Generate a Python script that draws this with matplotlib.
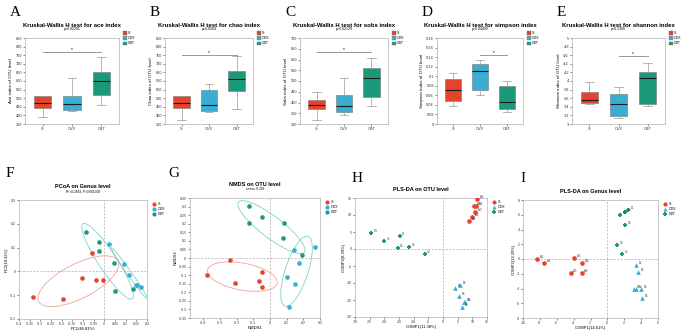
import matplotlib
matplotlib.use("Agg")
import matplotlib.pyplot as plt
from matplotlib.patches import Ellipse
import numpy as np

plt.rcParams['font.family'] = ['Liberation Sans', 'DejaVu Sans']

W, H = 682, 330
fig = plt.figure(figsize=(W / 100, H / 100), dpi=100)

groups = ['S', 'OVX', 'CBT']
cols = ['#e5432b', '#3aaed1', '#1b9a7b']

# box stats: (whislo, q1, med, q3, whishi) for S, OVX, CBT
ace = [(388, 445, 472, 510, 515), (428, 430, 465, 515, 620), (460, 520, 600, 655, 738)]
chao = [(372, 445, 472, 515, 515), (420, 425, 458, 545, 585), (440, 540, 610, 660, 745)]
sobs = [(320, 370, 388, 410, 450), (340, 358, 383, 435, 512), (385, 425, 512, 560, 608)]
simpson = [(0.038, 0.048, 0.072, 0.094, 0.107), (0.061, 0.072, 0.110, 0.126, 0.133),
           (0.025, 0.032, 0.047, 0.080, 0.090)]
shannon = [(3.47, 3.49, 3.56, 3.75, 3.98), (3.13, 3.19, 3.46, 3.70, 3.87),
           (3.43, 3.47, 4.08, 4.20, 4.43)]

box_panels = [
    ('A', 'ace', 'p=0.02291', 'Ace index of OTU level', ace, (350, 850), 50, (0, 2, 770)),
    ('B', 'chao', 'p=0.0264', 'Chao index of OTU level', chao, (350, 850), 50, (0, 2, 752)),
    ('C', 'sobs', 'p=0.02129', 'Sobs index of OTU level', sobs, (300, 700), 50, (0, 2, 635)),
    ('D', 'simpson', 'p=0.04493', 'Simpson index of OTU level', simpson, (0, 0.18), 0.02, (1, 2, 0.145)),
    ('E', 'shannon', 'p=0.1389', 'Shannon index of OTU level', shannon, (3, 5), 0.2, (1, 2, 4.57)),
]
box_left = [25, 165, 300, 437, 572]
box_right = [119, 253, 388, 523, 665]

# scatter data
pcoa_s = ([-0.333, -0.193, -0.104, -0.037, -0.007, -0.056], [-0.106, -0.116, -0.029, -0.036, -0.036, 0.076])
pcoa_ovx = ([0.022, 0.091, 0.116, 0.148, 0.153, 0.174], [0.114, 0.033, -0.015, -0.058, -0.056, -0.064])
pcoa_cbt = ([-0.088, -0.024, -0.027, 0.046, 0.050, 0.135], [0.167, 0.122, 0.086, 0.034, -0.081, -0.074])

nmds_s = ([-0.38, -0.242, -0.21, -0.066, -0.048, -0.048], [-0.102, -0.014, -0.145, -0.137, -0.169, -0.084])
nmds_ovx = ([0.142, 0.272, 0.176, 0.102, 0.150, 0.114], [0.047, 0.065, -0.031, -0.108, -0.149, -0.286])
nmds_cbt = ([-0.128, -0.046, -0.128, 0.082, 0.080, 0.192], [0.302, 0.237, 0.206, 0.202, 0.116, 0.018])

plsH_s = ([8.8, 9.9, 11.0, 10.5, 11.3, 11.6], [8.3, 9.3, 10.9, 12.6, 12.6, 14.7])
plsH_ovx = ([4.2, 5.9, 5.4, 7.6, 7.3, 6.5], [-11.6, -10.5, -13.9, -15.6, -15.5, -17.2])
plsH_cbt = ([-24.6, -20.2, -14.8, -15.5, -11.5, -6.3], [4.67, 2.5, 3.7, 0.4, 0.6, -1.5])

plsI_s = ([-8.3, -7.5, -3.9, -3.0, -4.35, -3.05], [-0.05, -0.6, 0.1, -0.6, -1.9, -1.96])
plsI_ovx = ([3.44, 3.67, 3.1, 3.44, 4.0, 4.15], [-0.8, -1.7, -4.0, -4.0, -4.0, -5.3])
plsI_cbt = ([1.46, 2.1, 2.5, 2.05, 1.15, 1.74], [6.0, 6.4, 6.6, 4.6, 1.9, 0.67])

lab_s = ['A1', 'A2', 'A3', 'A4', 'A5', 'A6']
lab_ovx = ['B1', 'B2', 'B3', 'B4', 'B5', 'B6']
lab_cbt = ['C4', 'C3', 'C1', 'C5', 'C6', 'C2']


def ax_at(l, t, r, b):
    return fig.add_axes([l / W, 1 - b / H, (r - l) / W, (b - t) / H])


def style(ax):
    for s in ax.spines.values():
        s.set_color('#b0b0b0')
        s.set_linewidth(0.5)
    ax.tick_params(labelsize=2.8, length=1.2, width=0.4, pad=1, colors='#333333')


for i, (letter, name, p, ylab, data, ylim, step, sig) in enumerate(box_panels):
    ax = ax_at(box_left[i], 38, box_right[i], 124)
    stats = [dict(whislo=d[0], q1=d[1], med=d[2], q3=d[3], whishi=d[4], label=g)
             for d, g in zip(data, groups)]
    bp = ax.bxp(stats, positions=[0, 1, 2], widths=0.6, showfliers=False, patch_artist=True,
                medianprops=dict(color='#1a1a1a', linewidth=0.8),
                whiskerprops=dict(color='#999999', linewidth=0.5),
                capprops=dict(color='#999999', linewidth=0.5),
                boxprops=dict(linewidth=0.4, edgecolor='#777777'))
    for patch, c in zip(bp['boxes'], cols):
        patch.set_facecolor(c)
    ax.set_xlim(-0.6, 2.6)
    ax.set_ylim(*ylim)
    ax.set_yticks(np.arange(ylim[0], ylim[1] + step / 2, step))
    if name == 'simpson':
        ax.set_yticklabels([f'{v:g}' for v in np.round(np.arange(0, 0.181, 0.02), 2)])
    elif name == 'shannon':
        ax.set_yticklabels([f'{v:g}' for v in np.round(np.arange(3, 5.01, 0.2), 1)])
    ax.set_xticks([0, 1, 2])
    ax.set_xticklabels(groups)
    ax.set_ylabel(ylab, fontsize=3.2, labelpad=1.5)
    style(ax)
    x0, x1, yv = sig
    ax.plot([x0, x1], [yv, yv], color='#999999', lw=0.7)
    ax.text((x0 + x1) / 2, yv, '*', ha='center', va='bottom', fontsize=3.5)
    ax.text(0.5, 1.12, f'Kruskal-Wallis H test for {name} index', transform=ax.transAxes,
            ha='center', va='bottom', fontsize=4.3, fontweight='bold')
    ax.text(0.5, 1.08, p, transform=ax.transAxes, ha='center', va='bottom', fontsize=2.5)
    fig.text((box_left[i] - 15) / W, 1 - 13 / H, letter, fontsize=11,
             family='Liberation Serif', va='center')
    handles = [plt.Rectangle((0, 0), 1, 1, fc=c, ec='#777777', lw=0.3) for c in cols]
    ax.legend(handles, groups, loc='upper left', bbox_to_anchor=(1.02, 1.1), fontsize=2.6,
              frameon=False, handlelength=1.2, handleheight=1.0, labelspacing=0.3,
              handletextpad=0.3, borderpad=0)


def conf_ellipse(ax, x, y, color):
    x = np.asarray(x)
    y = np.asarray(y)
    cov = np.cov(x, y)
    vals, vecs = np.linalg.eigh(cov)
    order = vals.argsort()[::-1]
    vals, vecs = vals[order], vecs[:, order]
    ang = np.degrees(np.arctan2(vecs[1, 0], vecs[0, 0]))
    k = 1.55
    e = Ellipse((x.mean(), y.mean()), 2 * k * np.sqrt(vals[0]), 2 * k * np.sqrt(vals[1]),
                angle=ang, fill=False, ec=color, lw=0.6, alpha=0.8)
    ax.add_patch(e)


scatter_panels = [
    ('F', 'PCoA on Genus level', 'R²=0.2843, P=0.001000', 'PC1(46.81%)', 'PC2(18.32%)',
     (pcoa_s, pcoa_ovx, pcoa_cbt), (-0.4, 0.2), (-0.2, 0.3), 0.05, 0.1, (19, 200, 147, 319), True, False),
    ('G', 'NMDS on OTU level', 'stress: 0.118', 'NMDS1', 'NMDS2',
     (nmds_s, nmds_ovx, nmds_cbt), (-0.48, 0.3), (-0.35, 0.35), 0.1, 0.05, (190, 198, 320, 318), True, False),
    ('H', 'PLS-DA on OTU level', '', 'COMP1(11.38%)', 'COMP2(8.39%)',
     (plsH_s, plsH_ovx, plsH_cbt), (-30, 15), (-20, 15), 5, 5, (355, 198, 487, 317), False, True),
    ('I', 'PLS-DA on Genus level', '', 'COMP1(14.61%)', 'COMP2(13.39%)',
     (plsI_s, plsI_ovx, plsI_cbt), (-10, 6), (-8, 8), 2, 2, (523, 200, 658, 318), False, True),
]
letter_pos = [(6, 173), (168, 173), (352, 178), (520, 178)]

for j, (letter, title, sub, xl, yl, sets, xlim, ylim, xs, ys, box, ell, pls) in enumerate(scatter_panels):
    ax = ax_at(*box)
    ax.axhline(0, color='#aaaaaa', lw=0.5, ls=(0, (3, 2)))
    ax.axvline(0, color='#aaaaaa', lw=0.5, ls=(0, (3, 2)))
    markers = ['o', '^', 'P'] if pls else ['o', 'o', 'o']
    for (xv, yv), c, g, m, labs in zip(sets, cols, groups, markers, (lab_s, lab_ovx, lab_cbt)):
        ax.scatter(xv, yv, s=11, color=c, marker=m, lw=0, label=g, zorder=3)
        if ell:
            conf_ellipse(ax, xv, yv, '#f08a80' if g == 'S' else '#5cc6c0')
        if pls:
            for xx, yy, t in zip(xv, yv, labs):
                ax.annotate(t, (xx, yy), xytext=(2, 0), textcoords='offset points',
                            fontsize=2, color='#333333', va='bottom')
    ax.set_xlim(*xlim)
    ax.set_ylim(*ylim)
    xt = np.round(np.arange(np.ceil(xlim[0] / xs) * xs, xlim[1] + xs / 2, xs), 3)
    yt = np.round(np.arange(ylim[0], ylim[1] + ys / 2, ys), 3)
    ax.set_xticks(xt)
    ax.set_yticks(yt)
    ax.set_xticklabels([f'{v:g}' for v in xt])
    ax.set_yticklabels([f'{v:g}' for v in yt])
    ax.set_xlabel(xl, fontsize=3, labelpad=1)
    ax.set_ylabel(yl, fontsize=3, labelpad=1)
    style(ax)
    ax.tick_params(labelsize=2.5)
    ax.text(0.5, 1.09 if sub else 1.05, title, transform=ax.transAxes, ha='center', va='bottom',
            fontsize=4, fontweight='bold')
    if sub:
        ax.text(0.5, 1.055, sub, transform=ax.transAxes, ha='center', va='bottom', fontsize=2.3)
    ax.legend(loc='upper left', bbox_to_anchor=(1.01, 1.0), fontsize=2.6, frameon=False,
              handletextpad=0.2, labelspacing=0.3, borderpad=0, markerscale=0.9)
    fig.text(letter_pos[j][0] / W, 1 - letter_pos[j][1] / H, letter, fontsize=11,
             family='Liberation Serif', va='center')

fig.savefig('out.png', dpi=100)
